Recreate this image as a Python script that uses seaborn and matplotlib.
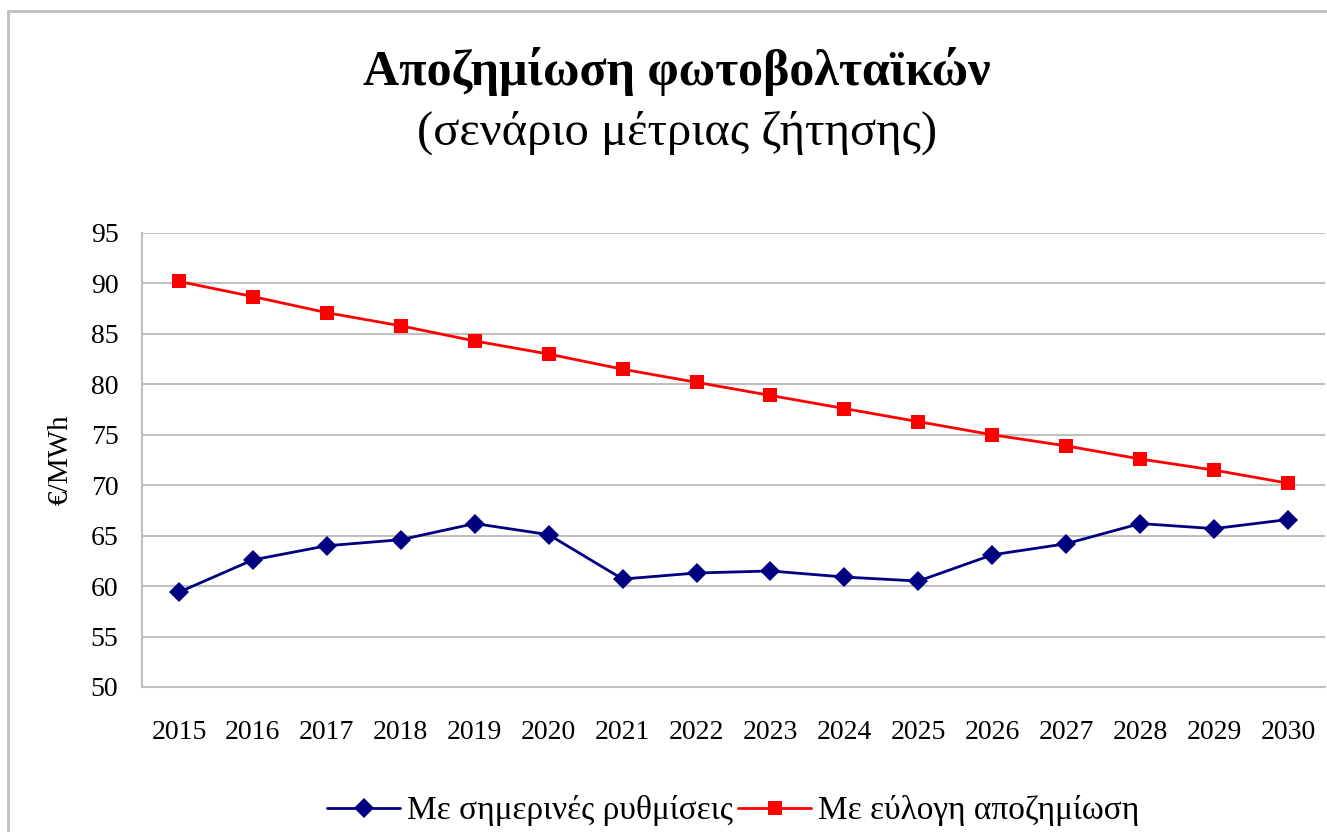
import numpy as np
import pandas as pd
import matplotlib
matplotlib.use('Agg')
import matplotlib.pyplot as plt
import seaborn as sns
from matplotlib.patches import Rectangle

# Datos del gráfico
years = [str(y) for y in range(2015, 2031)]
current_rules = [59.4, 62.6, 64.0, 64.6, 66.2, 65.1, 60.7, 61.3, 61.5, 60.9,
                 60.5, 63.1, 64.2, 66.2, 65.7, 66.6]
fair_comp = [90.2, 88.7, 87.1, 85.8, 84.3, 83.0, 81.5, 80.2, 78.9, 77.6,
             76.3, 75.0, 73.9, 72.6, 71.5, 70.2]
series_names = ['Με σημερινές ρυθμίσεις', 'Με εύλογη αποζημίωση']
y_ticks = list(range(50, 100, 5))

df = pd.DataFrame({
    'year': years * 2,
    'value': current_rules + fair_comp,
    'series': [series_names[0]] * len(years) + [series_names[1]] * len(years),
})

sns.set_theme(style='white')
plt.rcParams['font.family'] = ['Liberation Serif', 'DejaVu Serif']
plt.rcParams['text.color'] = 'black'
plt.rcParams['axes.labelcolor'] = 'black'
plt.rcParams['xtick.color'] = 'black'
plt.rcParams['ytick.color'] = 'black'

fig = plt.figure(figsize=(13.27, 8.32), dpi=100)
ax = fig.add_axes([142 / 1327, 1 - 687 / 832, (1325 - 142) / 1327, (687 - 233) / 832])

palette = {series_names[0]: '#000080', series_names[1]: '#ff0000'}
markers = {series_names[0]: 'D', series_names[1]: 's'}
sns.lineplot(data=df, x='year', y='value', hue='series', style='series',
             palette=palette, markers=markers, dashes=False, markersize=10,
             linewidth=2, markeredgewidth=0, ax=ax, sort=False)

ax.set_ylim(50, 95)
ax.set_xlim(-0.5, len(years) - 0.5)
ax.set_yticks(y_ticks)
ax.set_xticks(range(len(years)))
ax.set_xticklabels(years)
ax.set_xticks(np.arange(-0.5, len(years), 1), minor=True)
ax.tick_params(axis='x', which='major', length=0, pad=24, labelsize=20)
ax.tick_params(axis='x', which='minor', length=7, color='#bfbfbf', width=1.2, direction='out')
ax.tick_params(axis='y', length=7, color='#bfbfbf', width=1.2, direction='out',
               labelsize=20, pad=10, labelcolor='black')
ax.tick_params(axis='x', labelcolor='black')
ax.yaxis.grid(True, color='#c0c0c0', linewidth=1.5)
ax.set_axisbelow(True)
for s in ['top', 'right']:
    ax.spines[s].set_visible(False)
for s in ['left', 'bottom']:
    ax.spines[s].set_color('#bfbfbf')
    ax.spines[s].set_linewidth(1.5)

ax.set_xlabel('')
ax.set_ylabel('€/MWh', fontsize=21, labelpad=12)

handles, labels = ax.get_legend_handles_labels()
ax.legend(handles, labels, loc='center', bbox_to_anchor=(591 / 1183, -124 / 454),
          ncol=2, frameon=False, fontsize=24, handlelength=2.2,
          handletextpad=0.2, columnspacing=0.15)

fig.text(677 / 1327, 1 - 72 / 832, 'Αποζημίωση φωτοβολταϊκών', ha='center', va='center',
         fontsize=36, fontweight='bold')
fig.text(677 / 1327, 1 - 133 / 832, '(σενάριο μέτριας ζήτησης)', ha='center', va='center',
         fontsize=35)

fig.patches.append(Rectangle((8 / 1327, -0.1), 1.2, 1 - 11 / 832 + 0.1,
                             transform=fig.transFigure, fill=False,
                             edgecolor='#c0c0c0', linewidth=2))

fig.savefig('out.png', dpi=100)
